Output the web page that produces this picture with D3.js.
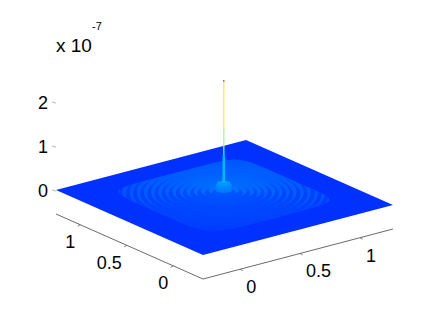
<!DOCTYPE html>
<html>
<head>
<meta charset="utf-8">
<script src="https://cdn.jsdelivr.net/npm/d3@7"></script>
<style>
  html, body { margin: 0; background: #fff; }
  text { font-family: "Liberation Sans", Arial, sans-serif; fill: #000; }
</style>
</head>
<body>
<div id="chart"></div>
<script>
(function(){

// tick labels
var xTicks = [0, 0.5, 1],
    yTicks = [0, 0.5, 1],
    zTicks = [0, 1, 2];

// surface, z in units of 1e-7
var planeZ = 0.02;
// lighter rounded squares around the rings: half size, value
var patchHalf = [0.54, 0.50];
var patchZ = [0.05, 0.08];
// ripple bands, outermost first: outer radius, value
var ringRadius = [0.715, 0.69, 0.668, 0.645, 0.621, 0.598, 0.574, 0.551, 0.527, 0.504, 0.48, 0.457, 0.433, 0.41, 0.386, 0.363,
                  0.339, 0.316, 0.292, 0.269, 0.245, 0.222, 0.198, 0.175, 0.151, 0.125, 0.10, 0.078];
var ringZ      = [0.17, 0.07, 0.18, 0.08, 0.19, 0.09, 0.20, 0.10, 0.21, 0.10, 0.22, 0.11, 0.22, 0.11, 0.23, 0.12,
                  0.24, 0.12, 0.25, 0.13, 0.26, 0.14, 0.27, 0.15, 0.28, 0.16, 0.30, 0.18];
// central bump: radius, height
var bumpRadius = [0.056, 0.056, 0.052, 0.044];
var bumpZ = [0.13, 0.18, 0.24, 0.29];
// spike pieces, bottom to top
var spikeFrom = [0.30, 0.92, 1.04, 1.54, 2.59];
var spikeTo   = [0.92, 1.04, 1.54, 2.59, 2.63];
var spikeVal  = [0.62, 0.95, 1.32, 1.90, 2.62];
var spikeWide = [2.6, 1.4, 1.3, 1.3, 1.3];

var width = 436, height = 315;
var cx = 0.5, cy = 0.5;    // data position of the spike

// jet like colours over the z values
var jet = d3.scaleLinear()
  .domain([-0.2, 0.94, 1.3, 1.9, 2.62])
  .range(["#0000ff", "#00ffff", "#98ff90", "#ffe860", "#d04030"]);

// oblique projection of the box, origin is the front corner of the plane
var xs = d3.scaleLinear().domain([-0.31, 1.275]).range([0, 1]);
var ys = d3.scaleLinear().domain([-0.32, 1.26]).range([0, 1]);
var zs = d3.scaleLinear().domain([0, 1]).range([0, -44]);

function project(x, y, z, dy) {
  var u = xs(x), v = ys(y);
  return [203 + u * 190 - v * 147,
          255 - u * 50 - v * 65 + zs(z) + (dy || 0)];
}

var svg = d3.select("#chart").append("svg")
  .attr("width", width)
  .attr("height", height)
  .style("display", "block");

var line = d3.line().curve(d3.curveLinearClosed);

// superellipse outline in data space, p=2 is a circle
function outline(r, z, p) {
  return line(d3.range(0, 120).map(function(i) {
    var a = i / 120 * 2 * Math.PI,
        c = Math.cos(a), s = Math.sin(a),
        k = r / Math.pow(Math.pow(Math.abs(c), p) + Math.pow(Math.abs(s), p), 1 / p);
    return project(cx + k * c, cy + k * s, z);
  }));
}

// plane
svg.append("path")
  .attr("d", line([
    project(-0.31, -0.32, 0), project(1.275, -0.32, 0),
    project(1.275, 1.26, 0), project(-0.31, 1.26, 0)
  ]))
  .attr("fill", jet(planeZ));

svg.append("clipPath")
  .attr("id", "square")
  .append("path")
    .attr("d", outline(patchHalf[0], 0, 8));

svg.selectAll(".patch")
  .data(patchHalf)
  .enter().append("path")
    .attr("class", "patch")
    .attr("d", function(d) { return outline(d, 0, 8); })
    .attr("fill", function(d, i) { return jet(patchZ[i]); });

// rings
svg.append("g")
  .attr("clip-path", "url(#square)")
  .selectAll(".ring")
  .data(ringRadius)
  .enter().append("path")
    .attr("class", "ring")
    .attr("d", function(d, i) { return outline(d, ringZ[i] * 0.4, 2); })
    .attr("fill", function(d, i) { return jet(ringZ[i]); });

// bump
svg.selectAll(".bump")
  .data(bumpRadius)
  .enter().append("path")
    .attr("class", "bump")
    .attr("d", function(d, i) { return outline(d, bumpZ[i], 2); })
    .attr("fill", function(d, i) { return jet(bumpZ[i] + 0.2); });

// spike
svg.selectAll(".spike")
  .data(spikeFrom)
  .enter().append("line")
    .attr("class", "spike")
    .attr("x1", function(d) { return project(cx, cy, d)[0]; })
    .attr("y1", function(d) { return project(cx, cy, d)[1]; })
    .attr("x2", function(d, i) { return project(cx, cy, spikeTo[i])[0]; })
    .attr("y2", function(d, i) { return project(cx, cy, spikeTo[i])[1]; })
    .attr("stroke", function(d, i) { return jet(spikeVal[i]); })
    .attr("stroke-width", function(d, i) { return spikeWide[i]; });

// box edges under the plane
var axisColor = "#5a5a5a";
var gap = 24;
svg.append("path")
  .attr("d", d3.line()([
    project(-0.31, 1.26, 0, gap), project(-0.31, -0.32, 0, gap), project(1.275, -0.32, 0, gap)
  ]))
  .attr("fill", "none")
  .attr("stroke", axisColor)
  .attr("stroke-width", 0.9);

// x ticks and labels
xTicks.forEach(function(t) {
  var p = project(t, -0.32, 0, gap);
  svg.append("line")
    .attr("x1", p[0]).attr("y1", p[1])
    .attr("x2", p[0] + 2.5).attr("y2", p[1] + 1.5)
    .attr("stroke", axisColor).attr("stroke-width", 0.8);
  svg.append("text")
    .attr("x", p[0] + 6)
    .attr("y", p[1] + 24)
    .attr("font-size", "18px")
    .text(t);
});

// y ticks and labels
yTicks.forEach(function(t) {
  var p = project(-0.31, t, 0, gap);
  svg.append("line")
    .attr("x1", p[0]).attr("y1", p[1])
    .attr("x2", p[0] - 2.5).attr("y2", p[1] + 1.5)
    .attr("stroke", axisColor).attr("stroke-width", 0.8);
  svg.append("text")
    .attr("x", p[0] - 5)
    .attr("y", p[1] + 23.5)
    .attr("text-anchor", "end")
    .attr("font-size", "18px")
    .text(t);
});

// z ticks and labels
zTicks.forEach(function(t) {
  var y = project(-0.31, 1.26, t)[1];
  svg.append("line")
    .attr("x1", 52).attr("y1", y)
    .attr("x2", 56).attr("y2", y + 1)
    .attr("stroke", "#999").attr("stroke-width", 0.7);
  svg.append("text")
    .attr("x", 48)
    .attr("y", y + 7)
    .attr("text-anchor", "end")
    .attr("font-size", "18px")
    .text(t);
});

// exponent
svg.append("text")
  .attr("x", 56).attr("y", 52)
  .attr("font-size", "19px")
  .text("x 10");
svg.append("text")
  .attr("x", 92).attr("y", 30)
  .attr("font-size", "11px")
  .text("-7");

})();
</script>
</body>
</html>
